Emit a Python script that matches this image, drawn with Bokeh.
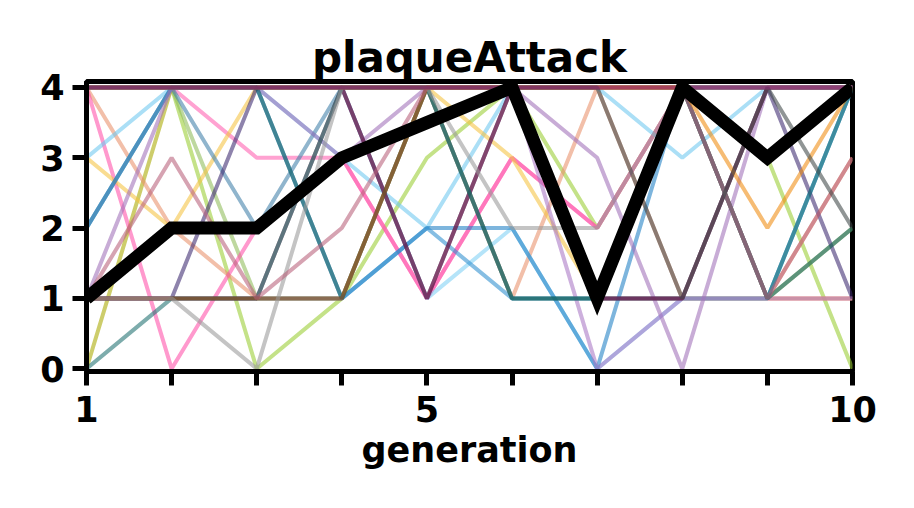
from bokeh.plotting import figure
from bokeh.models import Range1d, FixedTicker
from bokeh.embed import file_html
from bokeh.resources import INLINE

generation = [1, 2, 3, 4, 5, 6, 7, 8, 9, 10]

# individual runs (thin translucent lines)
run_yellowgreen = [4, 4, 0, 1, 3, 4, 2, 4, 3, 0]
run_green2 = [4, 4, 1, 1, 4, 4, 4, 4, 1, 2]
run_olive = [0, 4, 4, 4, 4, 4, 4, 4, 4, 4]
run_salmon = [4, 2, 1, 1, 4, 1, 4, 1, 1, 3]
run_pink = [4, 0, 2, 3, 1, 3, 2, 4, 4, 4]
run_pink2 = [4, 4, 3, 3, 1, 3, 2, 4, 1, 1]
run_sky = [3, 4, 4, 3, 2, 4, 4, 3, 4, 4]
run_sky2 = [2, 4, 4, 4, 1, 2, 0, 1, 1, 4]
run_gold = [3, 2, 4, 4, 4, 3, 1, 1, 1, 1]
run_blue = [2, 4, 4, 1, 2, 2, 0, 4, 4, 4]
run_steel = [2, 4, 2, 4, 4, 4, 4, 4, 4, 4]
run_steel2 = [1, 1, 1, 1, 2, 1, 1, 1, 1, 4]
run_purple = [1, 4, 4, 3, 4, 4, 3, 0, 4, 4]
run_purple2 = [4, 4, 4, 4, 4, 4, 0, 1, 1, 1]
run_indigo = [1, 1, 4, 4, 1, 4, 1, 1, 4, 1]
run_maroon = [1, 1, 1, 4, 1, 4, 1, 1, 4, 4]
run_teal = [0, 1, 1, 4, 4, 1, 1, 4, 1, 4]
run_darkteal = [4, 4, 4, 1, 4, 1, 1, 4, 1, 2]
run_brown = [1, 1, 1, 1, 4, 4, 4, 4, 4, 4]
run_gray = [1, 1, 0, 4, 4, 2, 2, 4, 4, 4]
run_rosy = [1, 3, 1, 2, 4, 4, 4, 4, 1, 3]
run_orange = [4, 4, 4, 4, 4, 4, 4, 4, 2, 4]
run_dimgray = [4, 4, 4, 4, 4, 4, 4, 1, 4, 2]
run_magenta = [4, 4, 4, 4, 4, 4, 4, 4, 4, 4]

# highlighted run (thick black line)
best_run = [1, 2, 2, 3, 3.5, 4, 1, 4, 3, 4]

runs = [
    (run_yellowgreen, "#9acd32"),
    (run_green2, "#8fbc5a"),
    (run_olive, "#a8a800"),
    (run_salmon, "#e9906a"),
    (run_pink, "#ff4fa8"),
    (run_pink2, "#ff5fb0"),
    (run_sky, "#6fc8ef"),
    (run_sky2, "#7fd0f5"),
    (run_gold, "#f5c242"),
    (run_blue, "#1f7fc4"),
    (run_steel, "#3f7fa8"),
    (run_steel2, "#2f8fcf"),
    (run_purple, "#a070b8"),
    (run_purple2, "#a877c4"),
    (run_indigo, "#3d2a70"),
    (run_maroon, "#7a1840"),
    (run_teal, "#1f7070"),
    (run_darkteal, "#15605e"),
    (run_brown, "#9a4a10"),
    (run_gray, "#9a9a9a"),
    (run_rosy, "#b8607a"),
    (run_orange, "#f08c10"),
    (run_dimgray, "#404848"),
    (run_magenta, "#8a1a7a"),
]

FONT = "DejaVu Sans"

p = figure(
    width=914, height=508,
    x_range=Range1d(1, 10), y_range=Range1d(-0.04, 4.085),
    output_backend="svg", toolbar_location=None, tools="",
    min_border_left=86, min_border_right=62, min_border_top=81, min_border_bottom=137,
    title="plaqueAttack",
)

for ys, col in runs:
    p.line(generation, ys, line_color=col, line_alpha=0.58, line_width=4)

p.line(generation, best_run, line_color="black", line_width=13, line_join="miter")

p.grid.visible = False
p.background_fill_color = "white"
p.border_fill_color = "white"
p.outline_line_color = "black"
p.outline_line_width = 5
p.outline_line_alpha = 1

p.title.text_font = FONT
p.title.text_font_size = "42px"
p.title.text_font_style = "bold"
p.title.text_color = "black"
p.title.align = "center"
p.title.standoff = 0

p.xaxis.ticker = FixedTicker(ticks=generation)
p.xaxis.major_label_overrides = {g: (str(g) if g in (1, 5, 10) else "") for g in generation}
p.yaxis.ticker = FixedTicker(ticks=[0, 1, 2, 3, 4])
p.xaxis.axis_label = "generation"

for ax in (p.xaxis[0], p.yaxis[0]):
    ax.axis_line_width = 5
    ax.axis_line_color = "black"
    ax.major_tick_line_width = 5
    ax.major_tick_line_color = "black"
    ax.major_tick_out = 14
    ax.major_tick_in = 0
    ax.minor_tick_line_color = None
    ax.major_label_text_font = FONT
    ax.major_label_text_font_size = "35px"
    ax.major_label_text_font_style = "bold"
    ax.major_label_text_color = "black"
    ax.axis_label_text_font = FONT
    ax.axis_label_text_font_size = "35px"
    ax.axis_label_text_font_style = "bold"
    ax.axis_label_text_color = "black"

p.xaxis.major_label_standoff = 10
p.yaxis.major_label_standoff = 8
p.xaxis.axis_label_standoff = 5

open("out.html", "w").write(file_html(p, INLINE))
